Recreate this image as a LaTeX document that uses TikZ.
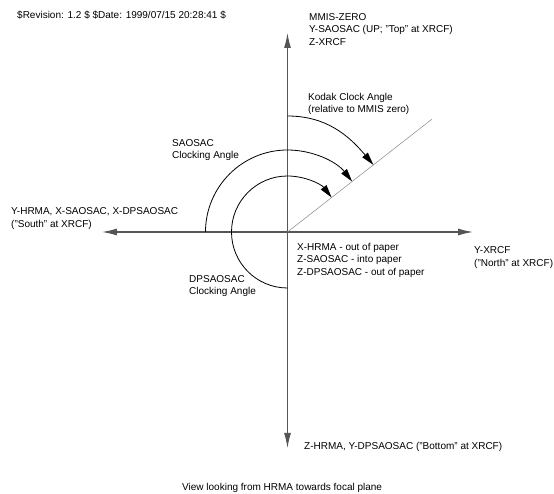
\documentclass[tikz,border=0pt]{standalone}
\usepackage{fontspec}
\setmainfont{Liberation Sans}
\usetikzlibrary{arrows.meta}
\definecolor{axisgray}{HTML}{555555}
\definecolor{diaggray}{HTML}{888888}

\begin{document}
\begin{tikzpicture}[x=1pt, y=1pt,
  lbl/.style={anchor=north west, inner sep=0pt, align=left, font=\fontsize{10}{12.5}\selectfont},
  axisline/.style={axisgray, line width=1.1pt, {Latex[length=15pt,width=7pt]}-{Latex[length=15pt,width=7pt]}},
  anglearc/.style={black, line width=0.8pt, -{Triangle[length=13pt,width=7pt]}}]
\useasboundingbox (-287.5,-262) rectangle (266.5,232);
% Axis crossing at origin, axis end points
\coordinate (O) at (0,0);
\coordinate (axtop) at (0,199);
\coordinate (axbot) at (0,-216);
\coordinate (axleft) at (-185.5,0);
\coordinate (axright) at (185.5,0);
\coordinate (diagend) at (38:183);

% Axes
\draw[axisline] (axbot) -- (axtop);
\draw[axisline] (axleft) -- (axright);

% Clock direction (thin line)
\draw[diaggray, line width=0.5pt] (O) -- (diagend);

% Clocking angle arcs, ending on the diagonal
\coordinate (kodakstart) at (0,116);
\coordinate (kodaktip) at (38:109);
\draw[anglearc] (kodakstart) to[out=0, in=130] (kodaktip);
\draw[anglearc] (180:82) arc[start angle=180, end angle=38, radius=82];
\draw[anglearc] (270:56) arc[start angle=270, end angle=38, radius=56];

% Labels
\node[lbl] (rev) at (-270.5,221) {\$Revision: 1.2 \$ \$Date: 1999/07/15 20:28:41 \$};
\node[lbl] (ytop) at (21.5,219) {MMIS-ZERO\\Y-SAOSAC (UP; "Top" at XRCF)\\Z-XRCF};
\node[lbl] (kodak) at (20.5,139.3) {Kodak Clock Angle\\(relative to MMIS zero)};
\node[lbl] (saosac) at (-115.5,93) {SAOSAC\\Clocking Angle};
\node[lbl] (yleft) at (-276.5,24.3) {Y-HRMA, X-SAOSAC, X-DPSAOSAC\\("South" at XRCF)};
\node[lbl] (xpaper) at (9.5,-10.7) {X-HRMA - out of paper\\Z-SAOSAC - into paper\\Z-DPSAOSAC - out of paper};
\node[lbl] (yright) at (186.5,-14.7) {Y-XRCF\\("North" at XRCF)};
\node[lbl] (dpsaosac) at (-98.5,-43) {DPSAOSAC\\Clocking Angle};
\node[lbl] (zbot) at (16.5,-209.7) {Z-HRMA, Y-DPSAOSAC ("Bottom" at XRCF)};
\node[lbl] (view) at (-105.5,-251) {View looking from HRMA towards focal plane};

\end{tikzpicture}
\end{document}
